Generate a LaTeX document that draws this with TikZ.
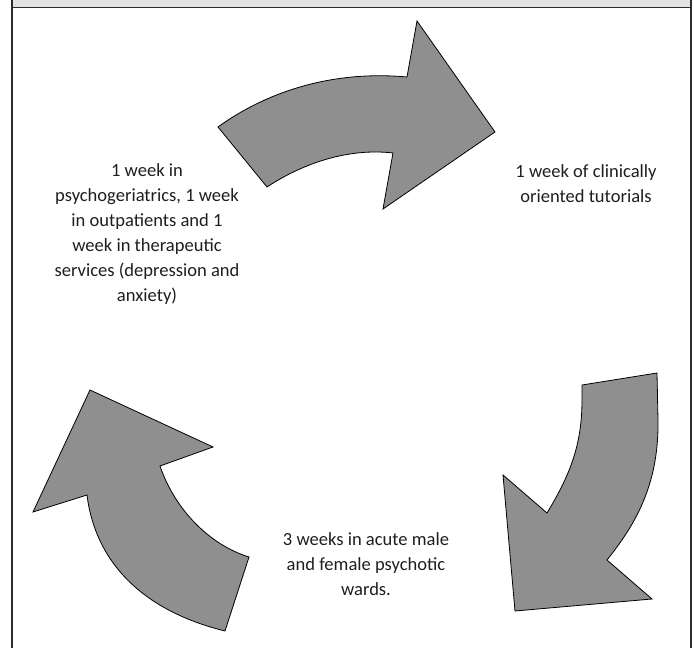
\documentclass[tikz,border=0pt]{standalone}
\usepackage{fontspec}
\setmainfont{Carlito}
\usepackage{xcolor}

\definecolor{arrowgray}{RGB}{143,143,143}
\definecolor{bandgray}{RGB}{228,228,228}
\definecolor{framegray}{RGB}{45,45,45}
\definecolor{textgray}{RGB}{30,30,30}

\tikzset{
  cyclearrow/.style={fill=arrowgray, draw=black, line width=0.6pt, line join=miter},
  steptext/.style={align=center, inner sep=0.75pt, text=textgray,
    font=\fontsize{13.9}{18.8}\selectfont}
}

\begin{document}
\begin{tikzpicture}[x=0.75pt,y=0.75pt,yscale=-1,xscale=1]
    \useasboundingbox (0,0) rectangle (694,648);

    %Shape: Frame
    \fill [bandgray] (12,0) rectangle (691,7.5) ;
    \draw [framegray, line width=1.1pt] (12,0) -- (12,648) (691,0) -- (691,648) (12,7.5) -- (691,7.5) ;

    %Shape: Curved Arrow top
    \draw [cyclearrow] (218,127) .. controls (265,93) and (330,70) .. (407,77) -- (417,21) -- (495,132) -- (383,209) -- (393,153) .. controls (350,148) and (305,162) .. (267,187) -- cycle ;
    %Shape: Curved Arrow right
    \draw [cyclearrow] (582,385) -- (657,373) -- (658,420) .. controls (659,485) and (635,525) .. (607,560) -- (652,599) -- (515,611) -- (503,475) -- (547,513) .. controls (570,475) and (582,445) .. (582,400) -- cycle ;
    %Shape: Curved Arrow left
    \draw [cyclearrow] (225,631) -- (249,557) .. controls (210,545) and (175,510) .. (160,466) -- (213,447) -- (90,390) -- (33,512) -- (87,495) .. controls (95,560) and (140,610) .. (225,631) -- cycle ;

    % Text Node
    \node [steptext] (wardsleft) at (147,234) {1 week in\\psychogeriatrics, 1 week\\in outpatients and 1\\week in therapeutic\\services (depression and\\anxiety)};
    % Text Node
    \node [steptext] (tutorials) at (586,184) {1 week of clinically\\oriented tutorials};
    % Text Node
    \node [steptext] (acutewards) at (366,564) {3 weeks in acute male\\and female psychotic\\wards.};

\end{tikzpicture}
\end{document}
